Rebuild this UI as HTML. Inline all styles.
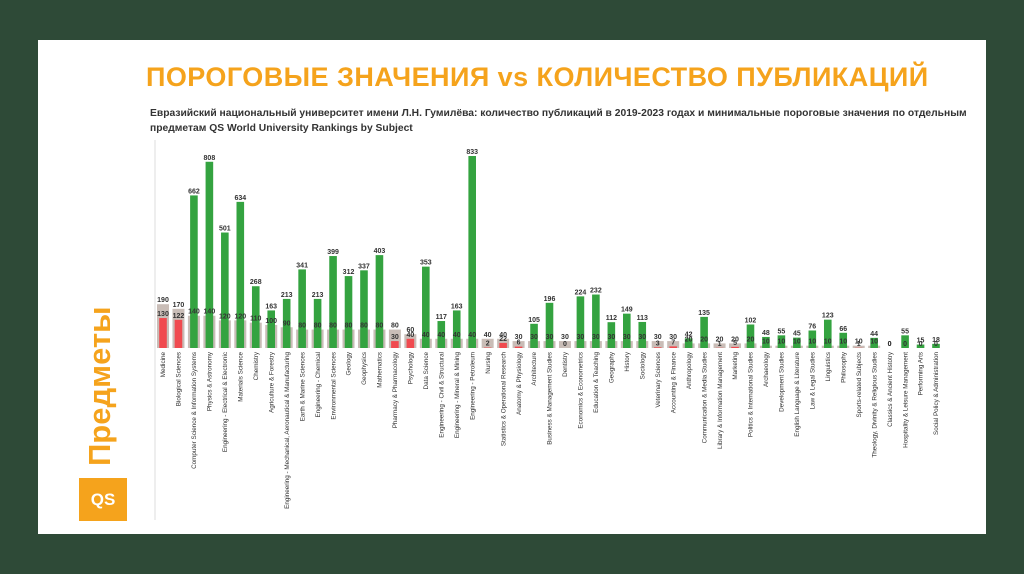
<!DOCTYPE html>
<html><head><meta charset="utf-8"><style>
body{margin:0;width:1024px;height:574px;background:#2e4a37;overflow:hidden;font-family:"Liberation Sans",sans-serif}
#card{position:absolute;left:38px;top:40px;width:948px;height:494px;background:#fff}
#title{position:absolute;left:146px;top:62px;font-size:27px;font-weight:bold;color:#f5a31c;white-space:nowrap;letter-spacing:0.45px}
#sub{position:absolute;left:150px;top:106px;font-size:10.3px;font-weight:bold;color:#333;line-height:15px;width:840px}
#ylab{position:absolute;left:82px;top:466px;transform:rotate(-90deg);transform-origin:0 0;font-size:31px;font-weight:bold;color:#f5a31c;white-space:nowrap}
#logo{position:absolute;left:79px;top:478px;width:48px;height:43px;background:#f5a31c;color:#fff;font-weight:bold;font-size:17px;text-align:center;line-height:43px}
svg{position:absolute;left:0;top:0}
</style></head><body>
<div id="card"></div>
<div id="title">ПОРОГОВЫЕ ЗНАЧЕНИЯ vs КОЛИЧЕСТВО ПУБЛИКАЦИЙ</div>
<div id="sub">Евразийский национальный университет имени Л.Н. Гумилёва: количество публикаций в 2019-2023 годах и минимальные пороговые значения по отдельным предметам QS World University Rankings by Subject</div>
<div id="ylab">Предметы</div>
<div id="logo">QS</div>
<svg id="chart" width="1024" height="574"></svg>
<script>
const categories=["Medicine","Biological Sciences","Computer Science & Information Systems","Physics & Astronomy","Engineering - Electrical & Electronic","Materials Science","Chemistry","Agriculture & Forestry","Engineering - Mechanical, Aeronautical & Manufacturing","Earth & Marine Sciences","Engineering - Chemical","Environmental Sciences","Geology","Geophysics","Mathematics","Pharmacy & Pharmacology","Psychology","Data Science","Engineering - Civil & Structural","Engineering - Mineral & Mining","Engineering - Petroleum","Nursing","Statistics & Operational Research","Anatomy & Physiology","Architecture","Business & Management Studies","Dentistry","Economics & Econometrics","Education & Teaching","Geography","History","Sociology","Veterinary Sciences","Accounting & Finance","Anthropology","Communication & Media Studies","Library & Information Management","Marketing","Politics & International Studies","Archaeology","Development Studies","English Language & Literature","Law & Legal Studies","Linguistics","Philosophy","Sports-related Subjects","Theology, Divinity & Religious Studies","Classics & Ancient Histotry","Hospitality & Leisure Management","Performing Arts","Social Policy & Administration"];
const thresholds=[190,170,140,140,120,120,110,100,90,80,80,80,80,80,80,80,60,40,40,40,40,40,40,30,30,30,30,30,30,30,30,30,30,30,20,20,20,20,20,10,10,10,10,10,10,10,10,0,0,0,0];
const publications=[130,122,662,808,501,634,268,163,213,341,213,399,312,337,403,30,40,353,117,163,833,2,22,6,105,196,0,224,232,112,149,113,3,7,42,135,1,5,102,48,55,45,76,123,66,1,44,0,55,15,18];
const svg=document.getElementById('chart');
const NS='http://www.w3.org/2000/svg';
const x0=163,step=15.46,base=348,k=192/833;
const xs=i=>x0+i*step, ys=v=>base-v*k;
function mk(t,a){const e=document.createElementNS(NS,t);for(const n in a)e.setAttribute(n,a[n]);svg.appendChild(e);return e;}
const ax=mk('line',{x1:155,y1:140,x2:155,y2:520,stroke:'#ddd','stroke-width':1});


categories.forEach((c,i)=>{
  const x=xs(i),t=thresholds[i],p=publications[i];
  const g=mk('rect',{x:x-6,y:ys(t),width:12,height:t*k,fill:'#c9bdb7'});
  
  
  const col=p>=t?'#34a340':'#f04a4f';
  const b=mk('rect',{x:x-3.8,y:ys(p),width:7.6,height:p*k,fill:col});
  
  
  const tl=mk('text',{x:x,y:ys(t)-2,'font-size':7,'font-weight':'bold','text-anchor':'middle',fill:'#333'});
  tl.textContent=t;
  
  
  const pl=mk('text',{x:x,y:ys(p)-2,'font-size':7,'font-weight':'bold','text-anchor':'middle',fill:'#333'});
  pl.textContent=p;
  
  
  const cl=mk('text',{x:0,y:0,'font-size':6.3,'text-anchor':'end',fill:'#333',transform:`translate(${x+2.2},352) rotate(-90)`});
  cl.textContent=c;
  
  
});
</script>
</body></html>
